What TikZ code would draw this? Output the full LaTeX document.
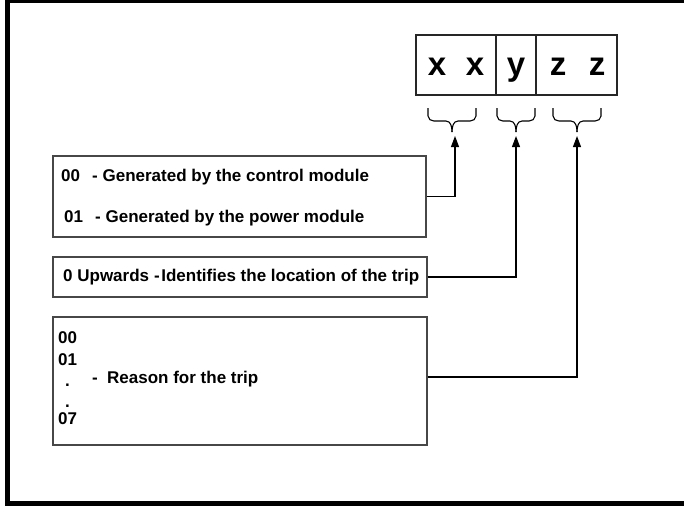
\documentclass[tikz,border=0pt]{standalone}
\usepackage{fontspec}
\setmainfont{Liberation Sans}
\usetikzlibrary{arrows.meta}
\tikzset{
  box/.style={draw=black!72, line width=1.1pt, inner sep=0pt, fill=none},
  cell/.style={draw=black!85, line width=1.1pt, inner sep=0pt, minimum height=60pt},
  lbl/.style={anchor=base west, inner sep=0pt, font=\fontsize{17}{20}\selectfont\bfseries},
  big/.style={anchor=base, inner sep=0pt, font=\fontsize{33}{36}\selectfont\bfseries},
  conn/.style={draw=black, line width=1.1pt, -{Triangle[length=11pt,width=8pt]}},
  brace/.style={draw=black, line width=1.1pt},
}
\begin{document}
\begin{tikzpicture}[x=1pt, y=-1pt]
\useasboundingbox (0,0) rectangle (684,507);
\begin{scope}
\clip (0,0) rectangle (684,507);
\draw[line width=5pt] (7.5,0.5) -- (700,0.5);
\draw[line width=5pt] (7.5,0) -- (7.5,503) -- (700,503);
\end{scope}

% code cells
\node[cell, minimum width=80pt] (c1) at (456,65) {};
\node[cell, minimum width=40pt] (c2) at (516,65) {};
\node[cell, minimum width=81pt] (c3) at (576.5,65) {};
\node[big] (x1) at (437,75) {x};
\node[big] (x2) at (475,75) {x};
\node[big] (y1) at (516,75) {y};
\node[big] (z1) at (558,75) {z};
\node[big] (z2) at (597,75) {z};

% braces
\draw[brace] (428,108) -- (428,116) to[out=-90,in=180] (434,121) -- (446,121) to[out=0,in=90] (452,132);
\draw[brace] (476,108) -- (476,116) to[out=-90,in=0] (470,121) -- (458,121) to[out=180,in=90] (452,132);
\draw[brace] (497,108) -- (497,116) to[out=-90,in=180] (503,121) -- (510,121) to[out=0,in=90] (516,132);
\draw[brace] (535,108) -- (535,116) to[out=-90,in=0] (529,121) -- (522,121) to[out=180,in=90] (516,132);
\draw[brace] (553,108) -- (553,116) to[out=-90,in=180] (559,121) -- (571,121) to[out=0,in=90] (577,132);
\draw[brace] (601,108) -- (601,116) to[out=-90,in=0] (595,121) -- (583,121) to[out=180,in=90] (577,132);

\coordinate (t1) at (455,136);
\coordinate (t2) at (516,136);
\coordinate (t3) at (577,136);

% boxes
\node[box, minimum width=373pt, minimum height=81pt] (b1) at (239.5,196.5) {};
\node[box, minimum width=374pt, minimum height=40pt] (b2) at (240,277) {};
\node[box, minimum width=374pt, minimum height=128pt] (b3) at (240,381) {};

% texts box 1
\node[lbl] (a1) at (61,181) {00};
\node[lbl] (a2) at (92,181) {- Generated by the control module};
\node[lbl] (a3) at (64,222) {01};
\node[lbl] (a4) at (95,222) {- Generated by the power module};
% box 2
\node[lbl] (d1) at (63,281) {0 Upwards};
\node[lbl] (d2) at (154,281) {-\kern1.5pt Identifies the location of the trip};
% box 3
\node[lbl] (e1) at (58,343) {00};
\node[lbl] (e2) at (58,365) {01};
\node[lbl] (e3) at (65,386) {.};
\node[lbl] (e4) at (65,407) {.};
\node[lbl] (e5) at (58,424) {07};
\node[lbl] (e6) at (92,383) {-};
\node[lbl] (e7) at (107,383) {Reason for the trip};

% connectors
\draw[conn] (b1.east) -| (t1);
\draw[conn] (b2.east) -| (t2);
\draw[conn] ([yshift=4pt]b3.east) -| (t3);
\end{tikzpicture}
\end{document}
